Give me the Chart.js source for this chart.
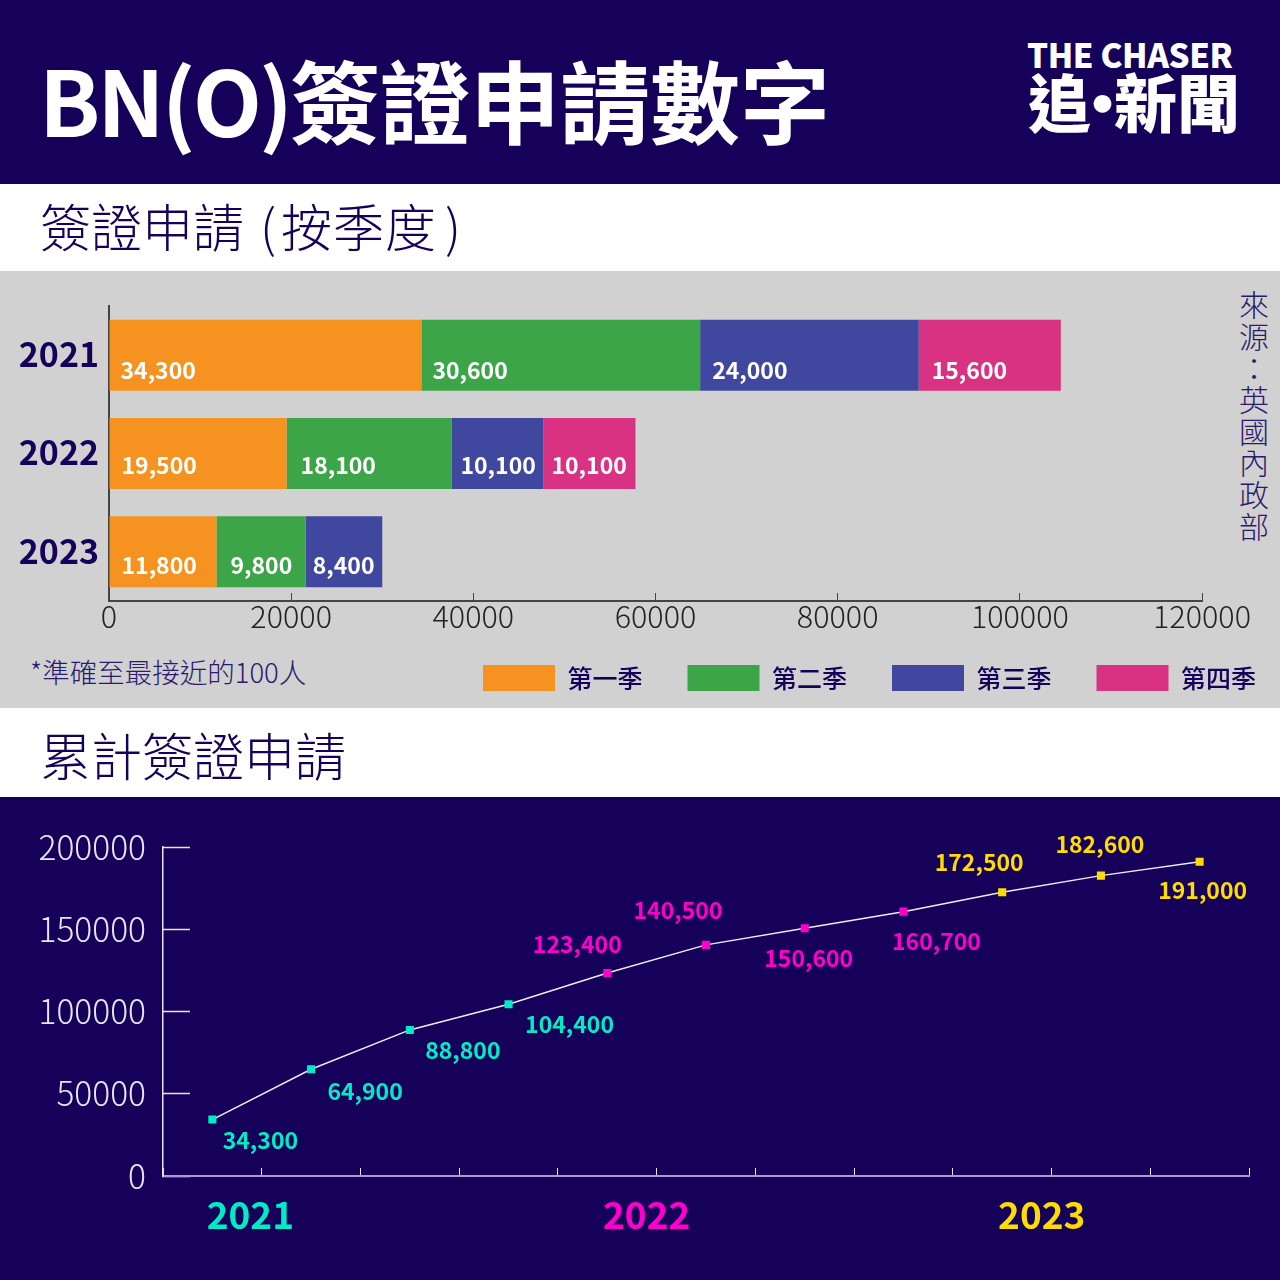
<!DOCTYPE html>
<html lang="zh-Hant">
<head>
<meta charset="utf-8">
<script src="https://cdn.jsdelivr.net/npm/chart.js@4"></script>
<style>
html,body{margin:0;padding:0;width:1280px;height:1280px;overflow:hidden;background:#fff;}
body{position:relative;font-family:"Noto Sans CJK TC","Noto Sans",sans-serif;}
.band{position:absolute;left:0;width:1280px;}
.t{position:absolute;white-space:nowrap;line-height:1;}
canvas{position:absolute;left:0;}
</style>
</head>
<body>
<div class="band" style="top:0;height:184px;background:#15005a"></div>
<div class="band" style="top:271px;height:437px;background:#d1d1d1"></div>
<div class="band" style="top:797px;height:483px;background:#15005a"></div>

<div class="t" style="left:39px;top:53px;font-size:90px;font-weight:700;color:#fff"><span style="letter-spacing:-3px">BN(O)</span>簽證申請數字</div>
<div class="t" style="left:1027px;top:38px;font-size:33px;font-weight:900;color:#fff;letter-spacing:-0.4px">THE CHASER</div>
<div class="t" style="left:1028px;top:68px;font-size:63px;font-weight:900;color:#fff">追<span style="margin-left:-20px;margin-right:-20px">·</span>新聞</div>
<div class="t" style="left:40px;top:200px;font-size:51px;font-weight:300;color:#15005a">簽證申請<span style="margin-left:16px">(</span><span style="margin-left:5px;letter-spacing:1px">按季度</span><span style="margin-left:8px">)</span></div>
<div class="t" style="left:40px;top:729px;font-size:51px;font-weight:300;color:#15005a">累計簽證申請</div>
<div class="t" style="left:30px;top:658px;font-size:27.5px;font-weight:300;color:#2a1a6e">*準確至最接近的100人</div>
<div class="t" style="left:1239px;top:290px;font-size:30px;font-weight:300;color:#2a1a6e;writing-mode:vertical-rl;letter-spacing:1.6px">來源：英國內政部</div>

<canvas id="bars" width="1280" height="430" style="top:271px;width:1280px;height:430px"></canvas>
<canvas id="line" width="1280" height="483" style="top:797px;width:1280px;height:483px"></canvas>

<script>
// ---- data ----
const years = ['2021', '2022', '2023'];
const quarterNames = ['第一季', '第二季', '第三季', '第四季'];
const q1 = [34300, 19500, 11800];
const q2 = [30600, 18100, 9800];
const q3 = [24000, 10100, 8400];
const q4 = [15600, 10100, null];
const barTicks = [0, 20000, 40000, 60000, 80000, 100000, 120000];

const quarters = ['Q1 2021','Q2 2021','Q3 2021','Q4 2021','Q1 2022','Q2 2022','Q3 2022','Q4 2022','Q1 2023','Q2 2023','Q3 2023'];
const cumulative = [34300, 64900, 88800, 104400, 123400, 140500, 150600, 160700, 172500, 182600, 191000];
const lineTicks = [0, 50000, 100000, 150000, 200000];

// ---- styles ----
const NAVY = '#15005a', CYAN = '#00ecc8', MAGENTA = '#ff00cc', YELLOW = '#ffdc00';
const FONT = '"Noto Sans CJK TC","Noto Sans",sans-serif';
const quarterColors = ['#f69220', '#3ca548', '#3f479f', '#d93282'];
const pointColors = [CYAN,CYAN,CYAN,CYAN,MAGENTA,MAGENTA,MAGENTA,MAGENTA,YELLOW,YELLOW,YELLOW];
// label inset from each bar's left edge (one row per year), label drop from the bar's centre
const barInsets = [[11,11,12,13],[12,14,9,8],[12,14,7,0]];
const barDrops = [15.5,12,13.5];
// label centre offset from each point
const lineOffsets = [[48,21],[54,22],[53,20],[61,20],[-30,-29],[-28,-35],[4,30],[33,30],[-23,-30],[-1,-31],[3,28]];
// year captions under the line chart: [first point index, dx]
const yearAnchors = [[0,38],[4,39.4],[8,39.6]];
const yearColors = [CYAN, MAGENTA, YELLOW];

const fmt = v => v.toLocaleString('en-US');
const plain = v => String(v);

const barLabels = {
  id:'barLabels',
  afterDatasetsDraw(chart){
    const c = chart.ctx; c.save();
    c.font = '700 23px '+FONT; c.fillStyle='#fff'; c.textAlign='left'; c.textBaseline='middle';
    chart.data.datasets.forEach((ds,d)=>{
      chart.getDatasetMeta(d).data.forEach((el,i)=>{
        if(ds.data[i]==null) return;
        c.fillText(fmt(ds.data[i]), el.base + barInsets[i][d], el.y + barDrops[i]);
      });
    });
    c.restore();
  }
};
// place the legend row beside the footnote; let the x tick labels draw below the thin scale box
const placeBoxes = {
  id:'placeBoxes',
  afterLayout(chart){
    chart.legend.left = 438; chart.legend.right = 1340;
    chart.scales.x.bottom = 380;
  }
};
const lineLabels = {
  id:'lineLabels',
  afterDatasetsDraw(chart){
    const c = chart.ctx, x = chart.scales.x; c.save();
    c.textAlign='center'; c.textBaseline='middle';
    c.font = '700 23px '+FONT;
    chart.getDatasetMeta(0).data.forEach((el,i)=>{
      c.fillStyle = pointColors[i];
      c.fillText(fmt(cumulative[i]), el.x+lineOffsets[i][0], el.y+lineOffsets[i][1]);
    });
    c.font = '700 37px '+FONT;
    years.forEach((y,i)=>{
      c.fillStyle = yearColors[i];
      c.fillText(y, x.getPixelForValue(yearAnchors[i][0])+yearAnchors[i][1], chart.chartArea.bottom+39);
    });
    c.restore();
  }
};

new Chart(document.getElementById('bars'),{
  type:'bar',
  data:{labels:years,datasets:[q1,q2,q3,q4].map((d,i)=>({label:quarterNames[i],data:d,backgroundColor:quarterColors[i],borderWidth:0,barPercentage:0.722,categoryPercentage:1}))},
  plugins:[barLabels,placeBoxes],
  options:{
    indexAxis:'y',responsive:false,animation:false,devicePixelRatio:1,
    layout:{autoPadding:false,padding:{top:35,right:78,left:0,bottom:0}},
    plugins:{
      tooltip:{enabled:false},
      legend:{position:'bottom',align:'start',labels:{boxWidth:72,boxHeight:26,padding:45,color:NAVY,font:{family:FONT,size:25,weight:'500'}}}
    },
    scales:{
      x:{stacked:true,min:0,max:120000,afterFit(s){s.height=19;},afterBuildTicks(s){s.ticks=barTicks.map(v=>({value:v}));},
        border:{color:'#444',width:2},
        grid:{drawOnChartArea:false,tickLength:-8,tickColor:'#444',tickWidth:1},
        ticks:{callback:plain,autoSkip:false,maxRotation:0,padding:5,color:'#222',font:{family:FONT,size:30.5,weight:'300'}}},
      y:{stacked:true,afterFit(s){s.width=109;},
        border:{color:'#444',width:2},
        grid:{display:false},
        ticks:{padding:2,labelOffset:-1,color:NAVY,font:{family:FONT,size:34,weight:'700'}}}
    }
  }
});

new Chart(document.getElementById('line'),{
  type:'line',
  data:{labels:quarters,datasets:[{data:cumulative,borderColor:'#eeeaf6',borderWidth:1.5,tension:0,pointStyle:'rect',pointRadius:5.7,pointBorderWidth:0,pointBackgroundColor:pointColors}]},
  plugins:[lineLabels],
  options:{
    responsive:false,animation:false,devicePixelRatio:1,
    layout:{autoPadding:false,padding:{top:50,right:31,left:0,bottom:0}},
    plugins:{tooltip:{enabled:false},legend:{display:false}},
    scales:{
      x:{offset:true,afterFit(s){s.height=104;},
        border:{color:'#a99dcc',width:2},
        grid:{offset:true,drawOnChartArea:false,tickLength:-8,tickColor:'#e8e4f2',tickWidth:1},
        ticks:{display:false,autoSkip:false}},
      y:{min:0,max:200000,afterFit(s){s.width=163;s.paddingTop=0;s.paddingBottom=0;},afterBuildTicks(s){s.ticks=lineTicks.map(v=>({value:v}));},
        border:{color:'#e8e4f2',width:1.5},
        grid:{drawOnChartArea:false,tickLength:-27,tickColor:'#e8e4f2',tickWidth:1.5},
        ticks:{callback:plain,padding:44,color:'#e8e4f2',font:{family:FONT,size:33.5,weight:'300'}}}
    }
  }
});
</script>
</body>
</html>
